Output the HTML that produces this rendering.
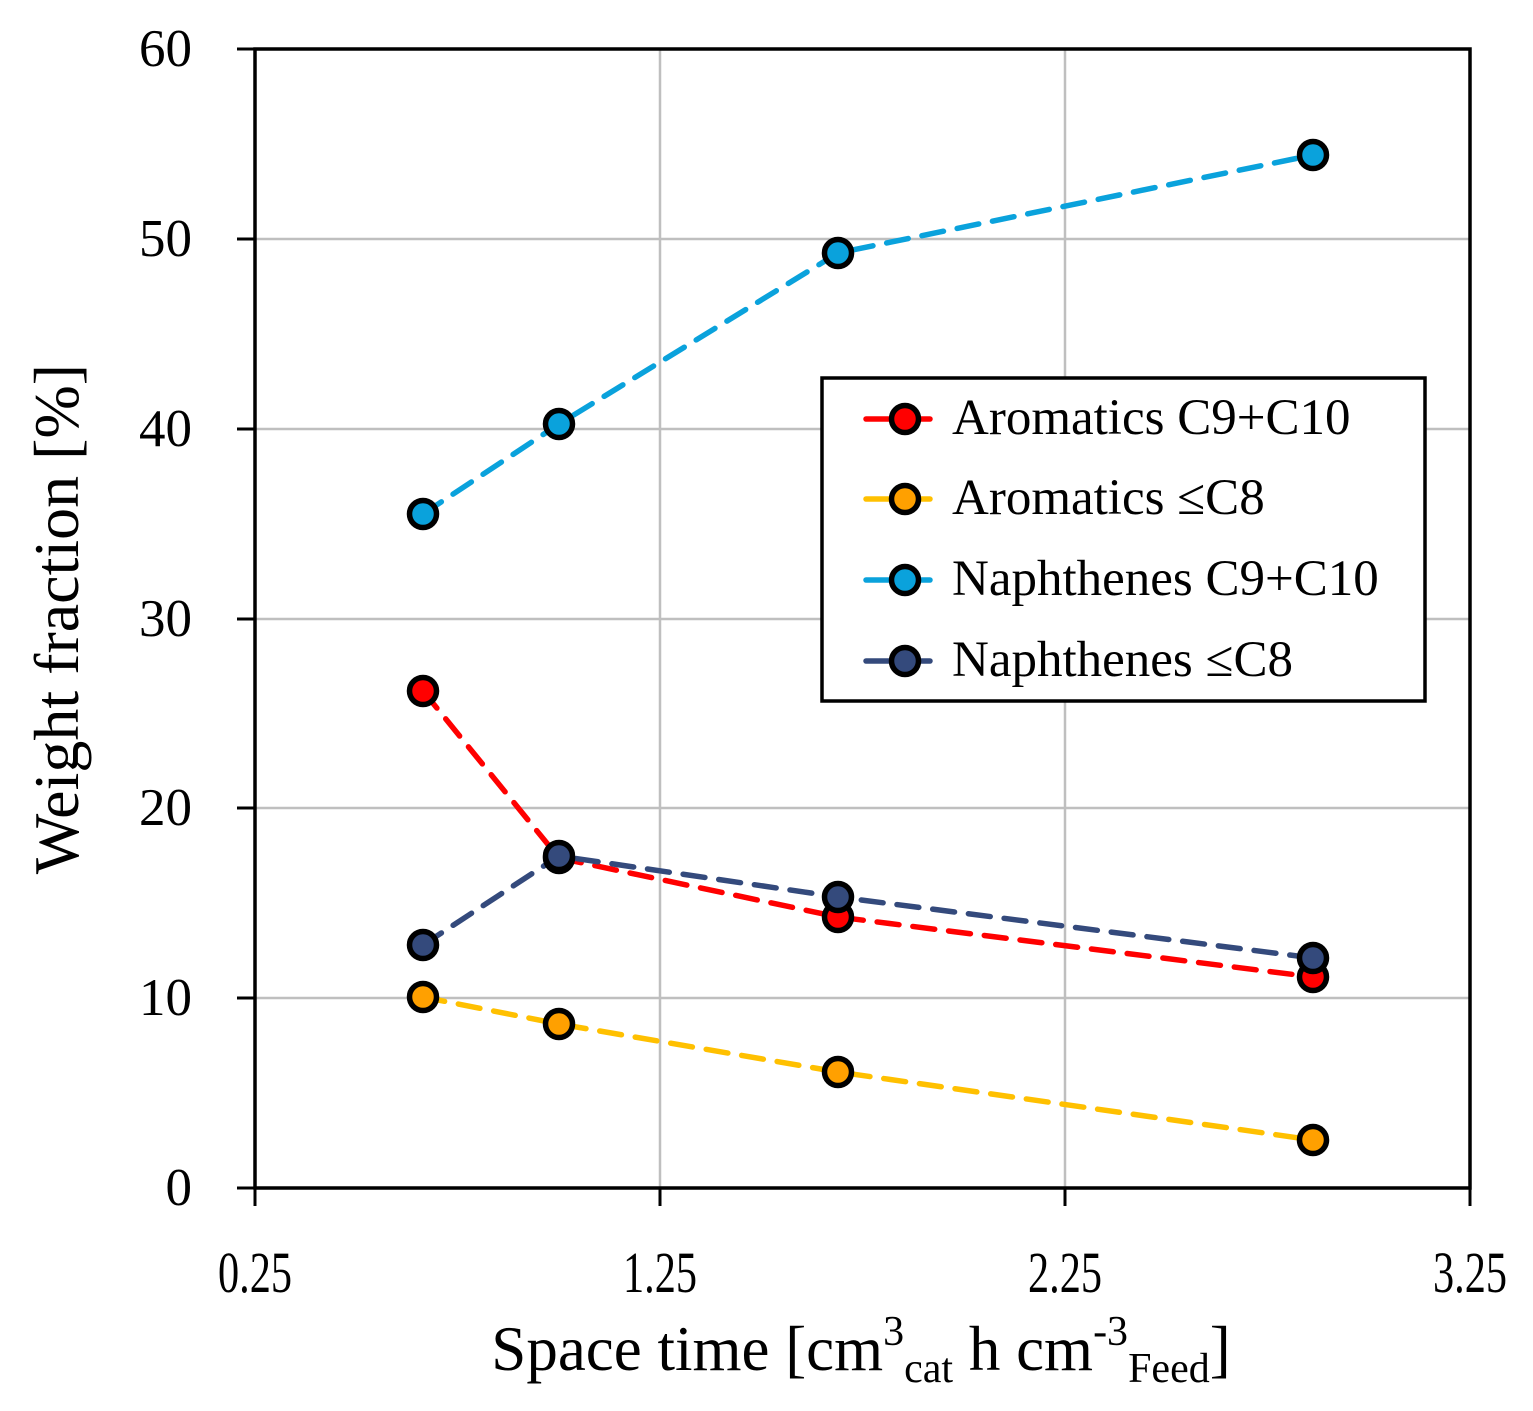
<!DOCTYPE html>
<html><head><style>body{margin:0;background:#fff}</style></head><body>
<svg width="1533" height="1406" xmlns="http://www.w3.org/2000/svg" font-family="Liberation Serif, serif">
<rect width="1533" height="1406" fill="#fff"/>
<g stroke="#bfbfbf" stroke-width="2.5">
<line x1="660" y1="49" x2="660" y2="1188"/><line x1="1065" y1="49" x2="1065" y2="1188"/>
<line x1="255" y1="239" x2="1470" y2="239"/><line x1="255" y1="429" x2="1470" y2="429"/>
<line x1="255" y1="619" x2="1470" y2="619"/><line x1="255" y1="808" x2="1470" y2="808"/>
<line x1="255" y1="998" x2="1470" y2="998"/>
</g>
<rect x="255" y="49" width="1215" height="1139" fill="none" stroke="#000" stroke-width="3.5"/>
<g stroke="#000" stroke-width="3">
<line x1="237" y1="49" x2="255" y2="49"/><line x1="237" y1="239" x2="255" y2="239"/><line x1="237" y1="429" x2="255" y2="429"/><line x1="237" y1="619" x2="255" y2="619"/><line x1="237" y1="808" x2="255" y2="808"/><line x1="237" y1="998" x2="255" y2="998"/><line x1="237" y1="1188" x2="255" y2="1188"/>
<line x1="255" y1="1188" x2="255" y2="1206"/><line x1="660" y1="1188" x2="660" y2="1206"/><line x1="1065" y1="1188" x2="1065" y2="1206"/><line x1="1470" y1="1188" x2="1470" y2="1206"/>
</g>
<g font-size="53" text-anchor="end">
<text x="192" y="66">60</text><text x="192" y="256">50</text><text x="192" y="446">40</text><text x="192" y="636">30</text><text x="192" y="825">20</text><text x="192" y="1015">10</text><text x="192" y="1205">0</text>
</g>
<g font-size="58" text-anchor="middle">
<text x="255" y="1292" textLength="74" lengthAdjust="spacingAndGlyphs">0.25</text><text x="660" y="1292" textLength="74" lengthAdjust="spacingAndGlyphs">1.25</text><text x="1065" y="1292" textLength="74" lengthAdjust="spacingAndGlyphs">2.25</text><text x="1470" y="1292" textLength="74" lengthAdjust="spacingAndGlyphs">3.25</text>
</g>
<text x="861" y="1370" font-size="63" text-anchor="middle">Space time [cm<tspan font-size="42" dy="-25">3</tspan><tspan font-size="42" dy="37">cat</tspan><tspan dy="-12"> h cm</tspan><tspan font-size="42" dy="-25">-3</tspan><tspan font-size="42" dy="37">Feed</tspan><tspan dy="-12">]</tspan></text>
<text transform="translate(78,619) rotate(-90)" font-size="64" text-anchor="middle">Weight fraction [%]</text>
<g fill="none" stroke-width="5.5" stroke-dasharray="22 14" stroke-linecap="round">
<polyline points="423,514 559,424 838,253 1313,155" stroke="#0aa2dc"/>
<polyline points="423,691 559,858 838,917 1313,977" stroke="#ff0000"/>
<polyline points="423,997 559,1024 838,1072 1313,1140" stroke="#ffc000"/>
<polyline points="423,945 559,856 838,897 1313,958" stroke="#344a7c"/>
</g>
<g stroke="#000" stroke-width="5.5">
<g fill="#0aa2dc"><circle cx="423" cy="514" r="13.5"/><circle cx="559" cy="424" r="13.5"/><circle cx="838" cy="253" r="13.5"/><circle cx="1313" cy="155" r="13.5"/></g>
<g fill="#ff0000"><circle cx="423" cy="691" r="13.5"/><circle cx="559" cy="858" r="13.5"/><circle cx="838" cy="917" r="13.5"/><circle cx="1313" cy="977" r="13.5"/></g>
<g fill="#ffa000"><circle cx="423" cy="997" r="13.5"/><circle cx="559" cy="1024" r="13.5"/><circle cx="838" cy="1072" r="13.5"/><circle cx="1313" cy="1140" r="13.5"/></g>
<g fill="#344a7c"><circle cx="423" cy="945" r="13.5"/><circle cx="559" cy="856" r="13.5"/><circle cx="838" cy="897" r="13.5"/><circle cx="1313" cy="958" r="13.5"/></g>
</g>
<rect x="822" y="378" width="603" height="323" fill="#fff" stroke="#000" stroke-width="3.5"/>
<g stroke-width="5.5" stroke-linecap="round">
<line x1="866" y1="419" x2="930" y2="419" stroke="#ff0000"/>
<line x1="866" y1="499" x2="930" y2="499" stroke="#ffc000"/>
<line x1="866" y1="580" x2="930" y2="580" stroke="#0aa2dc"/>
<line x1="866" y1="661" x2="930" y2="661" stroke="#344a7c"/>
</g>
<g stroke="#000" stroke-width="5.5">
<circle cx="905" cy="419" r="13.5" fill="#ff0000"/><circle cx="905" cy="499" r="13.5" fill="#ffa000"/><circle cx="905" cy="580" r="13.5" fill="#0aa2dc"/><circle cx="905" cy="661" r="13.5" fill="#344a7c"/>
</g>
<g font-size="51">
<text x="952" y="434">Aromatics C9+C10</text><text x="952" y="514">Aromatics ≤C8</text><text x="952" y="595">Naphthenes C9+C10</text><text x="952" y="676">Naphthenes ≤C8</text>
</g>
</svg>
</body></html>
